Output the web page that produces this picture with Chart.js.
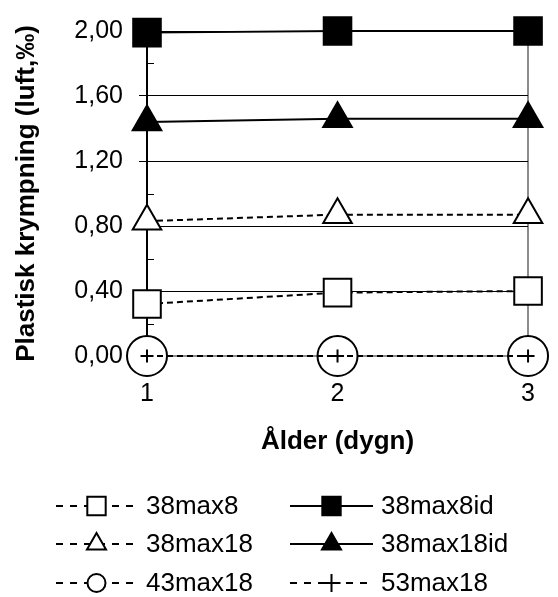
<!DOCTYPE html>
<html>
<head>
<meta charset="utf-8">
<script src="https://cdn.jsdelivr.net/npm/chart.js@4"></script>
<style>
	html, body { margin: 0; padding: 0; background: #fff; }
	#wrap { width: 558px; height: 597px; position: relative; }
</style>
</head>
<body>
<div id="wrap"><canvas id="shrinkChart"></canvas></div>
<script>
const days = ['1', '2', '3'];
const s38max8 = [0.32, 0.39, 0.40];
const s38max18 = [0.83, 0.87, 0.87];
const s43max18 = [0, 0, 0];
const s53max18 = [0, 0, 0];
const s38max8id = [1.99, 2.0, 2.0];
const s38max18id = [1.44, 1.46, 1.46];
const minorTicks = [0.2, 0.6, 1.0, 1.4, 1.8];

const FONT = '"Liberation Sans", Arial, sans-serif';
const dash = [6, 4];

function fmt(v) {
	return v.toFixed(2).replace('.', ',');
}

// minor ticks on the inside of the y axis
const minorTickPlugin = {
	id: 'minorTicks',
	afterDraw(chart) {
		const { ctx, scales } = chart;
		const y = scales.y;
		ctx.save();
		ctx.strokeStyle = '#000';
		ctx.lineWidth = 1;
		minorTicks.forEach((v) => {
			const py = Math.round(y.getPixelForValue(v)) + 0.5;
			ctx.beginPath();
			ctx.moveTo(chart.chartArea.left, py);
			ctx.lineTo(chart.chartArea.left + 7, py);
			ctx.stroke();
		});
		ctx.restore();
	},
};

// two column legend with line + marker samples
const legendPlugin = {
	id: 'sampleLegend',
	afterDraw(chart) {
		const { ctx } = chart;
		const cols = [
			{ x0: 56, x1: 137, tx: 146 },
			{ x0: 290, x1: 373, tx: 381 },
		];
		const rows = [506, 544, 583];
		// column, row, dataset index
		const layout = [
			[0, 0, 0], [0, 1, 1], [0, 2, 2],
			[1, 0, 4], [1, 1, 5], [1, 2, 3],
		];
		layout.forEach(([c, r, k]) => {
			const ds = chart.data.datasets[k];
			const col = cols[c];
			const y = rows[r];
			ctx.save();
			ctx.strokeStyle = '#000';
			ctx.lineWidth = 2;
			ctx.setLineDash(ds.borderDash ? [7, 7] : []);
			ctx.beginPath();
			ctx.moveTo(col.x0, y);
			ctx.lineTo(col.x1, y);
			ctx.stroke();
			ctx.setLineDash([]);
			const mx = (col.x0 + col.x1) / 2;
			ctx.fillStyle = ds.pointBackgroundColor;
			ctx.strokeStyle = '#000';
			ctx.lineWidth = 2;
			Chart.helpers.drawPoint(ctx, {
				pointStyle: ds.pointStyle,
				radius: ds.legendRadius,
				borderWidth: 2,
				rotation: 0,
			}, mx, y);
			ctx.fillStyle = '#000';
			ctx.font = '26px ' + FONT;
			ctx.textBaseline = 'middle';
			ctx.textAlign = 'left';
			ctx.fillText(ds.label, col.tx, y + 1);
			ctx.restore();
		});
	},
};

function series(label, data, opts) {
	return Object.assign({
		label: label,
		data: data,
		borderColor: '#000',
		borderWidth: 2,
		pointBorderColor: '#000',
		pointBorderWidth: 2,
		pointHoverRadius: 0,
		tension: 0,
		fill: false,
		clip: false,
	}, opts);
}

const ctx = document.getElementById('shrinkChart').getContext('2d');
new Chart(ctx, {
	type: 'line',
	data: {
		labels: days,
		datasets: [
			series('38max8', s38max8, {
				borderDash: dash,
				pointStyle: 'rect',
				pointRadius: 19.5,
				legendRadius: 13,
				pointBackgroundColor: '#fff',
				order: 3,
			}),
			series('38max18', s38max18, {
				borderDash: dash,
				pointStyle: 'triangle',
				pointRadius: 16.5,
				legendRadius: 11,
				pointBackgroundColor: '#fff',
				order: 3,
			}),
			series('43max18', s43max18, {
				borderDash: dash,
				pointStyle: 'circle',
				pointRadius: 20,
				legendRadius: 9,
				pointBackgroundColor: '#fff',
				order: 5,
			}),
			series('53max18', s53max18, {
				borderDash: dash,
				pointStyle: 'cross',
				pointRadius: 6.5,
				legendRadius: 9,
				pointBackgroundColor: '#000',
				order: 4,
			}),
			series('38max8id', s38max8id, {
				pointStyle: 'rect',
				pointRadius: 19.5,
				legendRadius: 13,
				pointBackgroundColor: '#000',
				order: 1,
			}),
			series('38max18id', s38max18id, {
				pointStyle: 'triangle',
				pointRadius: 16.5,
				legendRadius: 11,
				pointBackgroundColor: '#000',
				order: 2,
			}),
		],
	},
	options: {
		responsive: true,
		maintainAspectRatio: false,
		animation: false,
		events: [],
		layout: {
			padding: { left: 0, right: 19, top: 25, bottom: 139.4 },
		},
		plugins: {
			legend: { display: false },
			tooltip: { enabled: false },
		},
		scales: {
			x: {
				offset: false,
				grid: {
					color: (c) => (c.index === 2 ? '#8c8c8c' : 'rgba(0,0,0,0)'),
					lineWidth: 2,
					drawTicks: false,
				},
				border: { color: '#8c8c8c', width: 2 },
				ticks: {
					color: '#000',
					font: { family: FONT, size: 25 },
					padding: 23,
					maxRotation: 0,
				},
				title: {
					display: true,
					text: 'Ålder (dygn)',
					color: '#000',
					font: { family: FONT, size: 26, weight: 'bold' },
					padding: { top: 0, bottom: 0 },
				},
				afterFit(scale) {
					scale.height = 101.6;
				},
			},
			y: {
				min: 0,
				max: 2,
				ticks: {
					stepSize: 0.4,
					color: '#000',
					font: { family: FONT, size: 25 },
					padding: 16,
					callback: (v) => fmt(v),
				},
				grid: {
					color: '#000',
					lineWidth: 1,
					tickLength: 8,
				},
				border: { color: '#000', width: 2 },
				title: {
					display: true,
					text: 'Plastisk krympning (luft,‰)',
					color: '#000',
					font: { family: FONT, size: 26, weight: 'bold' },
					padding: { top: 11, bottom: 0 },
				},
				afterFit(scale) {
					scale.width = 147;
				},
			},
		},
	},
	plugins: [minorTickPlugin, legendPlugin],
});
</script>
</body>
</html>
